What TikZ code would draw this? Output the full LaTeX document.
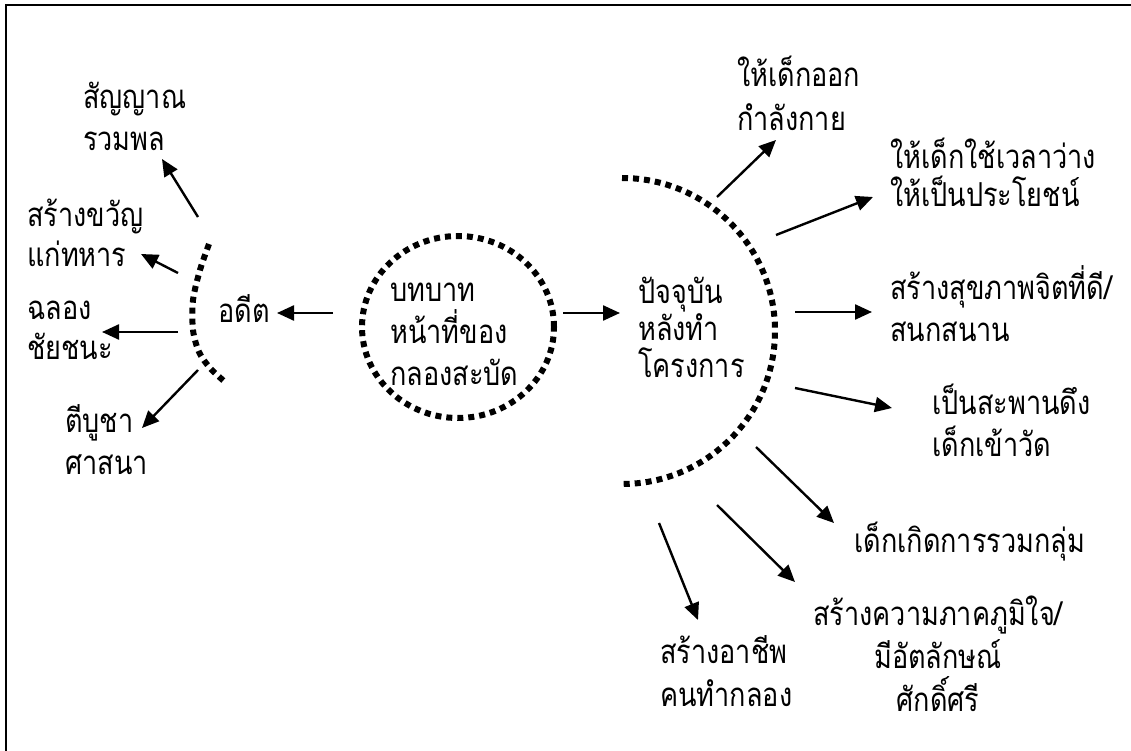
\documentclass[tikz,border=0pt]{standalone}
\usepackage{fontspec}
\newfontfamily\thaifont[Script=Thai,FakeStretch=0.82]{Loma}
\usetikzlibrary{arrows.meta,shapes.geometric}
\newcommand\mlL[2]{\vtop{\baselineskip=#1\lineskiplimit=-100pt\lineskip=0pt\halign{##\hfil\cr#2\crcr}}}
\newcommand\mlC[2]{\vtop{\baselineskip=#1\lineskiplimit=-100pt\lineskip=0pt\halign{\hfil##\hfil\cr#2\crcr}}}
\begin{document}
\begin{tikzpicture}[x=1pt,y=-1pt,
  lbl/.style={font=\thaifont\fontsize{33}{36}\selectfont, inner sep=0pt, anchor=base west},
  lblc/.style={lbl, anchor=base},
  arr/.style={line width=2.4pt, -{Triangle[length=17pt,width=15pt]}},
  dots/.style={line width=6pt, dash pattern=on 6pt off 5pt},
  frame/.style={line width=1.6pt}]
\useasboundingbox (0,0) rectangle (1131,751);
\draw[frame] (6,751) -- (6,5) -- (1131,5);

% central circle
\node[draw, dots, ellipse, minimum width=192pt, minimum height=182pt, inner sep=0pt] (role) at (458,327) {};
\node[lbl] (roletext) at (390,301) {\mlL{42pt}{บทบาท\cr หน้าที่ของ\cr กลองสะบัด}};

% past
\node[lbl] (adit) at (218,322) {อดีต};
\draw[dots] plot[smooth] coordinates {(209,244) (200,270) (193,300) (193,330) (199,352) (210,368) (225,382)};
\node[lbl] (sanyan) at (83,109) {\mlL{42pt}{สัญญาณ\cr รวมพล}};
\node[lbl] (khwan) at (27,226) {\mlL{40pt}{สร้างขวัญ\cr แก่ทหาร}};
\node[lbl] (chalong) at (27,319) {\mlL{40pt}{ฉลอง\cr ชัยชนะ}};
\node[lbl] (bucha) at (65,432) {\mlL{42pt}{ตีบูชา\cr ศาสนา}};

\coordinate (roleW) at (333,313);
\coordinate (aditE) at (277,313);
\draw[arr] (roleW) -- (aditE);
\coordinate (p1s) at (198,217); \coordinate (p1e) at (162,159);
\coordinate (p2s) at (178,273); \coordinate (p2e) at (141,254);
\coordinate (p3s) at (178,332); \coordinate (p3e) at (102,332);
\coordinate (p4s) at (198,370); \coordinate (p4e) at (142,428);
\draw[arr] (p1s) -- (p1e);
\draw[arr] (p2s) -- (p2e);
\draw[arr] (p3s) -- (p3e);
\draw[arr] (p4s) -- (p4e);

% present
\node[lbl] (now) at (638,303) {\mlL{37pt}{ปัจจุบัน\cr หลังทำ\cr โครงการ}};
\draw[dots] (622,178) arc[start angle=-90, end angle=90, radius=153];
\coordinate (roleE) at (563,313);
\coordinate (nowW) at (620,313);
\draw[arr] (roleE) -- (nowW);

\node[lbl] (ok) at (737,87) {\mlL{44pt}{ให้เด็กออก\cr กำลังกาย}};
\node[lbl] (wela) at (890,169) {\mlL{38pt}{ให้เด็กใช้เวลาว่าง\cr ให้เป็นประโยชน์}};
\node[lbl] (suk) at (890,299) {\mlL{42pt}{สร้างสุขภาพจิตที่ดี/\cr สนกสนาน}};
\node[lbl] (saphan) at (932,414) {\mlL{42pt}{เป็นสะพานดึง\cr เด็กเข้าวัด}};
\node[lbl] (ruam) at (854,552) {เด็กเกิดการรวมกลุ่ม};
\node[lblc] (phum) at (938,625) {\mlC{43pt}{สร้างความภาคภูมิใจ/\cr มีอัตลักษณ์\cr ศักดิ์ศรี}};
\node[lbl] (achip) at (660,663) {\mlL{43pt}{สร้างอาชีพ\cr คนทำกลอง}};

\coordinate (q1s) at (717,197); \coordinate (q1e) at (776,140);
\coordinate (q2s) at (776,235); \coordinate (q2e) at (873,197);
\coordinate (q3s) at (795,312); \coordinate (q3e) at (872,312);
\coordinate (q4s) at (795,388); \coordinate (q4e) at (892,408);
\coordinate (q5s) at (756,447); \coordinate (q5e) at (834,523);
\coordinate (q6s) at (717,505); \coordinate (q6e) at (795,582);
\coordinate (q7s) at (659,523); \coordinate (q7e) at (698,620);
\draw[arr] (q1s) -- (q1e);
\draw[arr] (q2s) -- (q2e);
\draw[arr] (q3s) -- (q3e);
\draw[arr] (q4s) -- (q4e);
\draw[arr] (q5s) -- (q5e);
\draw[arr] (q6s) -- (q6e);
\draw[arr] (q7s) -- (q7e);
\end{tikzpicture}
\end{document}
